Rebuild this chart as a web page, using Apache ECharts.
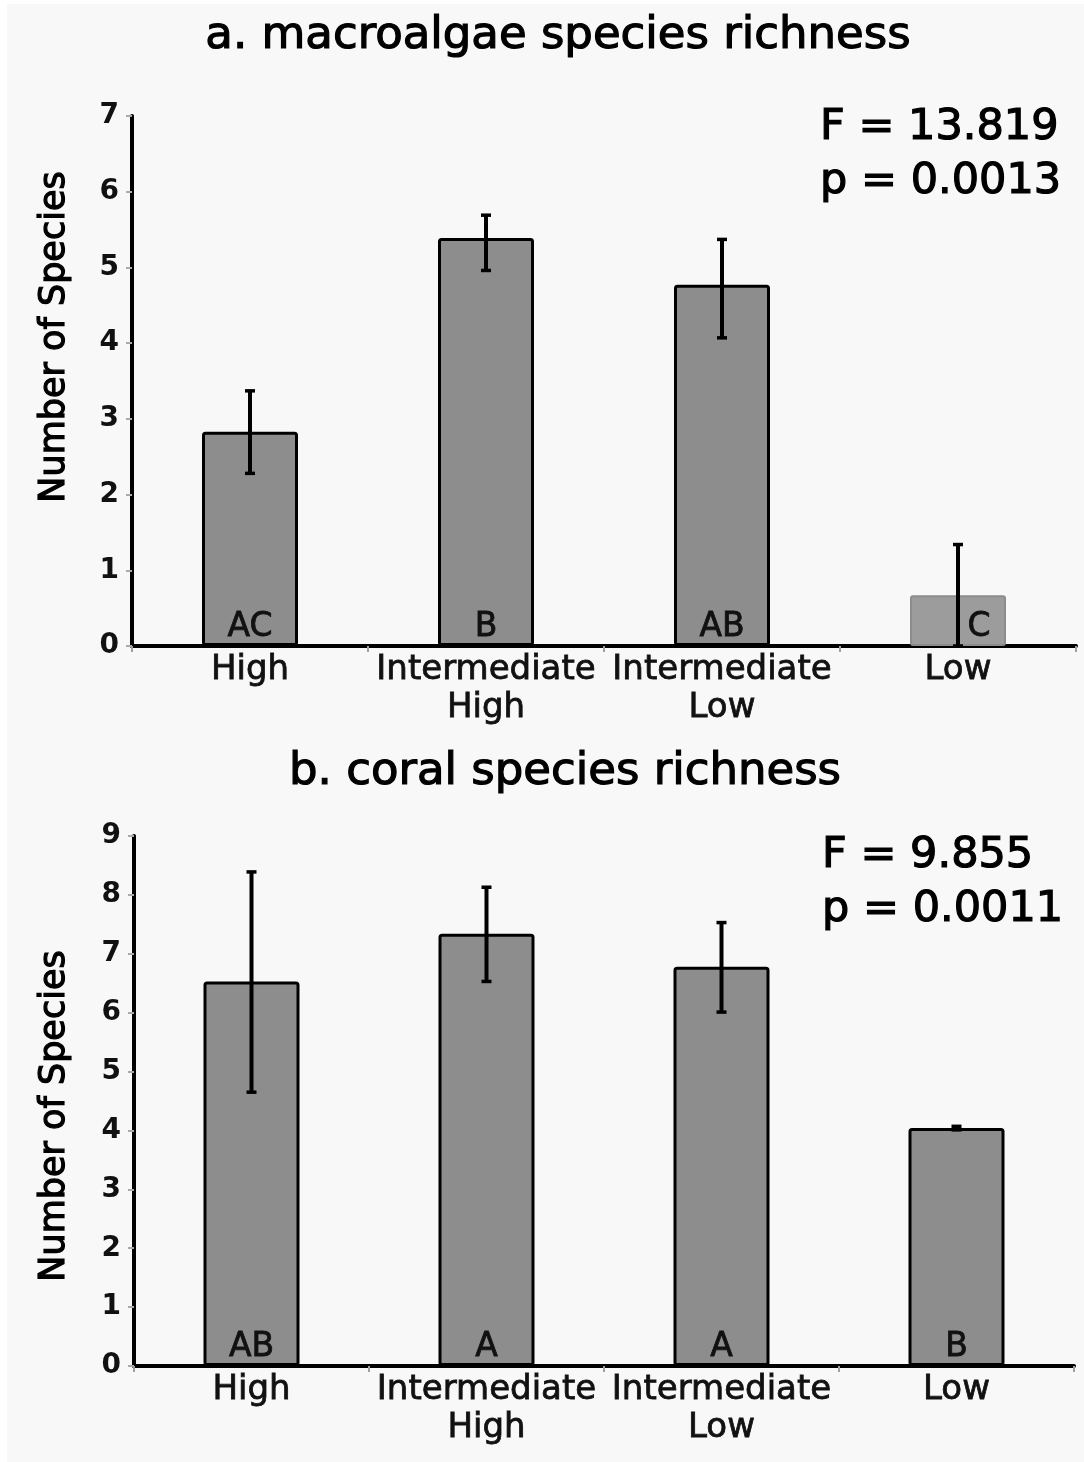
<!DOCTYPE html>
<html>
<head>
<meta charset="utf-8">
<script src="https://cdn.jsdelivr.net/npm/echarts@6/dist/echarts.min.js"></script>
<style>
html,body{margin:0;padding:0;background:#ffffff;}
#c{width:1084px;height:1462px;}
</style>
</head>
<body>
<div id="c"></div>
<script>
// ---- data ----
const categories = ['High', 'Intermediate\nHigh', 'Intermediate\nLow', 'Low'];

const macroTitle = 'a. macroalgae species richness';
const macroMean = [2.83, 5.39, 4.77, 0.67];
const macroErrLow = [2.28, 4.96, 4.07, 0.0];
const macroErrHigh = [3.37, 5.69, 5.37, 1.34];
const macroLetters = ['AC', 'B', 'AB', 'C'];
const macroStats = ['F = 13.819', 'p = 0.0013'];
const macroYMax = 7;

const coralTitle = 'b. coral species richness';
const coralMean = [6.53, 7.34, 6.78, 4.04];
const coralErrLow = [4.65, 6.53, 6.01, 4.01];
const coralErrHigh = [8.39, 8.13, 7.53, 4.07];
const coralLetters = ['AB', 'A', 'A', 'B'];
const coralStats = ['F = 9.855', 'p = 0.0011'];
const coralYMax = 9;

const yAxisTitle = 'Number of Species';

// ---- chart ----
const FONT = 'DejaVu Sans';
const chart = echarts.init(document.getElementById('c'), null, {renderer: 'canvas'});

function errorRender(params, api) {
  const x = api.value(0);
  const pLo = api.coord([x, api.value(1)]);
  const pHi = api.coord([x, api.value(2)]);
  const cap = 5;
  return {
    type: 'group',
    children: [
      {type: 'line', shape: {x1: pHi[0], y1: pHi[1], x2: pLo[0], y2: pLo[1]}, style: {stroke: '#000', lineWidth: 4}},
      {type: 'line', shape: {x1: pHi[0] - cap, y1: pHi[1], x2: pHi[0] + cap, y2: pHi[1]}, style: {stroke: '#000', lineWidth: 3.5}},
      {type: 'line', shape: {x1: pLo[0] - cap, y1: pLo[1], x2: pLo[0] + cap, y2: pLo[1]}, style: {stroke: '#000', lineWidth: 3.5}}
    ]
  };
}

function xAxisFor(i) {
  return {
    type: 'category', gridIndex: i, data: categories,
    axisLine: {lineStyle: {color: '#000', width: 4}},
    axisTick: {show: true, length: 6, lineStyle: {color: '#a0a0a0', width: 2}},
    axisLabel: {interval: 0, fontFamily: FONT, fontSize: 34, lineHeight: 38, color: '#111', margin: 5,
      textBorderColor: '#111', textBorderWidth: 0.8}
  };
}
function yAxisFor(i, max) {
  return {
    type: 'value', gridIndex: i, min: 0, max: max, interval: 1,
    splitLine: {show: false},
    axisLine: {show: true, lineStyle: {color: '#000', width: 4}},
    axisTick: {show: true, length: 6, lineStyle: {color: '#aaaaaa', width: 2}},
    axisLabel: {fontFamily: FONT, fontSize: 28, fontWeight: 'bold', color: '#111', margin: 13}
  };
}

function barSeries(i, means, letters) {
  return {
    type: 'bar', xAxisIndex: i, yAxisIndex: i, barWidth: 96, z: 2,
    data: means.map((v, k) => {
      const item = {value: v};
      if (i === 0 && k === 3) {
        item.itemStyle = {color: '#9c9c9c', borderColor: '#8c8c8c', borderWidth: 2};
        item.label = {offset: [21, 0]};
      }
      return item;
    }),
    itemStyle: {color: '#8d8d8d', borderColor: '#000', borderWidth: 3, borderRadius: 2},
    label: {
      show: true, position: 'insideBottom', distance: 2,
      fontFamily: FONT, fontSize: 33, color: '#111',
      textBorderColor: '#111', textBorderWidth: 0.8,
      formatter: p => letters[p.dataIndex]
    }
  };
}

function errSeries(i, lo, hi) {
  return {
    type: 'custom', xAxisIndex: i, yAxisIndex: i, z: 5,
    renderItem: errorRender,
    encode: {x: 0, y: [1, 2]},
    data: lo.map((v, k) => [k, v, hi[k]])
  };
}

function txt(text, x, y, size, align, rot) {
  return {
    type: 'text', x: x, y: y, rotation: rot || 0, z: 10,
    style: {
      text: text, fontFamily: FONT, fontSize: size, fill: '#000',
      stroke: '#000', lineWidth: 1.2,
      textAlign: align, textVerticalAlign: 'middle', align: align, verticalAlign: 'middle'
    }
  };
}

const option = {
  backgroundColor: '#f8f8f8',
  animation: false,
  grid: [
    {left: 132, top: 116, width: 944, height: 530},
    {left: 134, top: 836, width: 940, height: 530}
  ],
  xAxis: [xAxisFor(0), xAxisFor(1)],
  yAxis: [yAxisFor(0, macroYMax), yAxisFor(1, coralYMax)],
  series: [
    barSeries(0, macroMean, macroLetters),
    errSeries(0, macroErrLow, macroErrHigh),
    barSeries(1, coralMean, coralLetters),
    errSeries(1, coralErrLow, coralErrHigh)
  ],
  graphic: [
    {type: 'rect', shape: {x: 0, y: 0, width: 1084, height: 4}, style: {fill: '#ffffff'}, z: 20},
    {type: 'rect', shape: {x: 0, y: 0, width: 7, height: 1462}, style: {fill: '#ffffff'}, z: 20},
    txt(macroTitle, 558, 36, 45, 'center'),
    txt(coralTitle, 565, 772, 45, 'center'),
    txt(macroStats[0], 820, 128, 43, 'left'),
    txt(macroStats[1], 820, 182, 43, 'left'),
    txt(coralStats[0], 822, 856, 43, 'left'),
    txt(coralStats[1], 822, 910, 43, 'left'),
    txt(yAxisTitle, 55, 337, 35, 'center', Math.PI / 2),
    txt(yAxisTitle, 55, 1116, 35, 'center', Math.PI / 2)
  ]
};
chart.setOption(option);
</script>
</body>
</html>
